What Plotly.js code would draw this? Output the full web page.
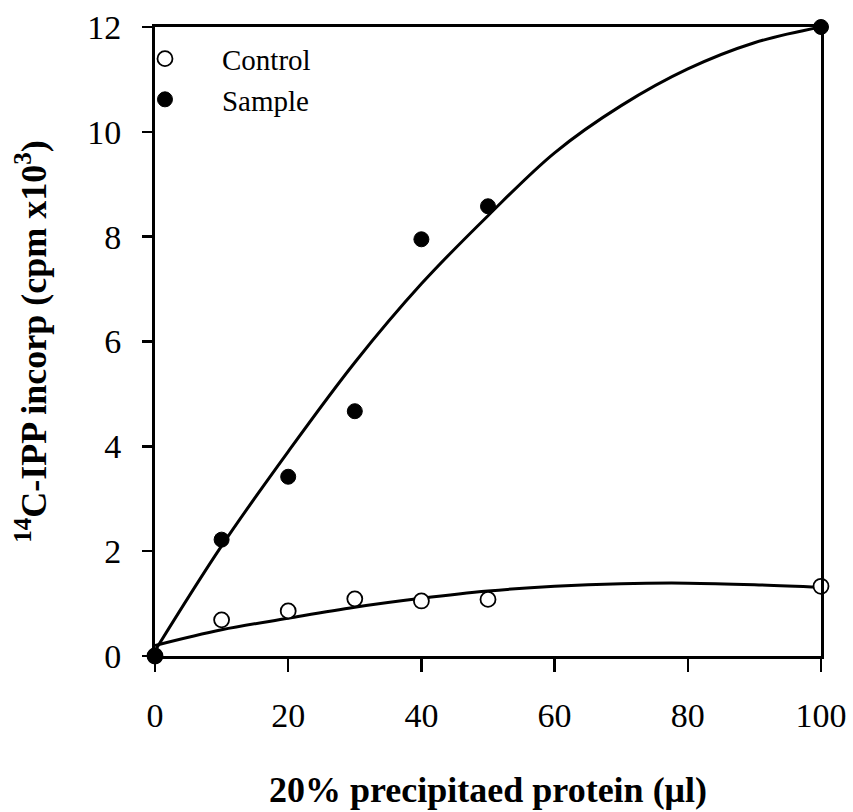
<!DOCTYPE html>
<html>
<head>
<meta charset="utf-8">
<script src="https://cdn.plot.ly/plotly-3.0.1.min.js"></script>
<style>html,body{margin:0;padding:0;background:#fff;}#chart{width:853px;height:812px;}</style>
</head>
<body>
<div id="chart"></div>
<script>
// Measured points
const doseX = [0, 10, 20, 30, 40, 50, 100];
const controlY = [0, 0.69, 0.86, 1.09, 1.05, 1.08, 1.33];
const sampleY = [0, 2.22, 3.42, 4.67, 7.95, 8.58, 12.0];

// Fitted curves
const curveX = [0, 10, 20, 30, 40, 50, 60, 70, 80, 90, 100];
const controlCurve = [0.2, 0.5, 0.72, 0.93, 1.1, 1.24, 1.33, 1.38, 1.39, 1.36, 1.31];
const sampleCurve = [0.1, 2.1, 3.9, 5.6, 7.1, 8.4, 9.6, 10.5, 11.2, 11.7, 12.0];

const seriesNames = ["Control", "Sample"];
const xTicks = [0, 20, 40, 60, 80, 100];
const yTicks = [0, 2, 4, 6, 8, 10, 12];

const serif = "'Liberation Serif', 'Times New Roman', serif";

const traces = [
  {x: curveX, y: controlCurve, mode: "lines", line: {color: "#000", width: 3, shape: "spline"}, showlegend: false, hoverinfo: "skip"},
  {x: curveX, y: sampleCurve, mode: "lines", line: {color: "#000", width: 3, shape: "spline"}, showlegend: false, hoverinfo: "skip"},
  {x: doseX, y: controlY, name: seriesNames[0], mode: "markers", cliponaxis: false,
   marker: {symbol: "circle", size: 15, color: "#fff", line: {color: "#000", width: 1.8}}},
  {x: doseX, y: sampleY, name: seriesNames[1], mode: "markers", cliponaxis: false,
   marker: {symbol: "circle", size: 15, color: "#000", line: {color: "#000", width: 1}}}
];

const layout = {
  width: 853, height: 812,
  margin: {l: 155, r: 32, t: 27, b: 156},
  paper_bgcolor: "#fff", plot_bgcolor: "#fff",
  font: {family: serif, color: "#000", size: 24},
  showlegend: true,
  legend: {x: -0.0706, y: 0.99, xanchor: "left", yanchor: "top", bgcolor: "rgba(0,0,0,0)",
           font: {family: serif, size: 29, color: "#000"}, itemwidth: 104, tracegroupgap: 0},
  xaxis: {
    range: [0, 100], tickvals: xTicks, ticktext: xTicks.map(String),
    showgrid: false, zeroline: false, showline: true, linecolor: "#000", linewidth: 3, mirror: true,
    ticks: "outside", ticklen: 13, tickwidth: 2.5, tickcolor: "#000", ticklabelstandoff: 14,
    tickfont: {family: serif, size: 34, color: "#000"},
    title: {text: "<b>20% precipitaed protein (μl)</b>", font: {family: serif, size: 36, color: "#000"}, standoff: 45}
  },
  yaxis: {
    range: [0, 12], tickvals: yTicks, ticktext: yTicks.map(String),
    showgrid: false, zeroline: false, showline: true, linecolor: "#000", linewidth: 3, mirror: true,
    ticks: "outside", ticklen: 10, tickwidth: 2.5, tickcolor: "#000", ticklabelstandoff: 14,
    tickfont: {family: serif, size: 34, color: "#000"},
    title: {text: "<b><sup>14</sup>C-IPP incorp (cpm x10<sup>3</sup>)</b>", font: {family: serif, size: 36, color: "#000"}, standoff: 30}
  }
};

Plotly.newPlot("chart", traces, layout, {displayModeBar: false, staticPlot: true});
</script>
</body>
</html>
